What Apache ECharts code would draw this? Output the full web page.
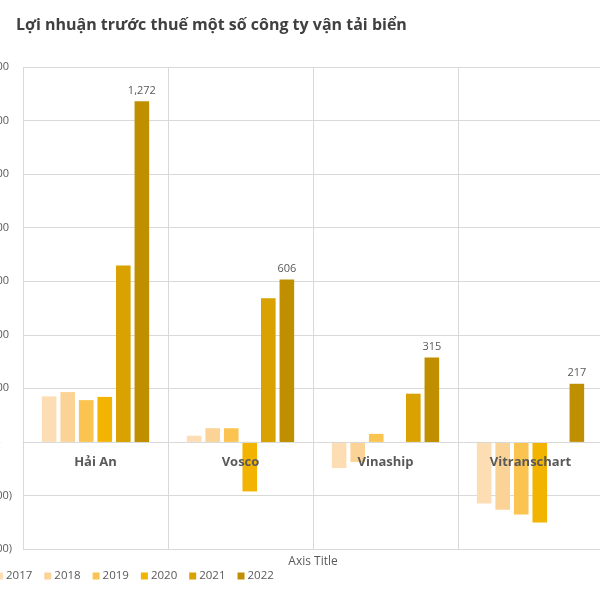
<!DOCTYPE html>
<html>
<head>
<meta charset="utf-8">
<script src="https://cdn.jsdelivr.net/npm/echarts@6/dist/echarts.min.js"></script>
<style>
html,body{margin:0;padding:0;background:#fff;}
#chart{width:600px;height:600px;}
</style>
</head>
<body>
<div id="chart"></div>
<script>
const categories = ['Hải An', 'Vosco', 'Vinaship', 'Vitranschart'];
const years = ['2017', '2018', '2019', '2020', '2021', '2022'];
const v2017 = [170, 23, -98, -230];
const v2018 = [186, 51, -75, -253];
const v2019 = [156, 51, 30, -271];
const v2020 = [168, -185, null, -301];
const v2021 = [659, 536, 180, null];
const v2022 = [1272, 606, 315, 217];
const yTicks = [-400, -200, 0, 200, 400, 600, 800, 1000, 1200, 1400];

const seriesValues = [v2017, v2018, v2019, v2020, v2021, v2022];
const colors = ['#FDDEB4', '#FCD396', '#FBC350', '#F2B400', '#D9A200', '#BF8F00'];

const gridTop = 67, gridBottom = 51, chartH = 600;
const yMin = yTicks[0], yMax = yTicks[yTicks.length - 1];
// distance (px) of the zero line above the bottom of the plot, from the axis scale
const zeroOffset = (0 - yMin) / (yMax - yMin) * (chartH - gridTop - gridBottom);

function fmt(v) {
  if (v === 0) return '-    ';
  const s = Math.abs(v).toLocaleString('en-US');
  return v < 0 ? '(' + s + ')' : s + ' ';
}

const chart = echarts.init(document.getElementById('chart'));
chart.setOption({
  animation: false,
  textStyle: { fontFamily: 'Open Sans' },
  title: {
    text: 'Lợi nhuận trước thuế một số công ty vận tải biển',
    left: 11, top: 12,
    textStyle: { fontFamily: 'Open Sans', fontSize: 16, fontWeight: 'bold', color: '#404040' }
  },
  legend: {
    data: years,
    left: -4, top: 570, padding: 0,
    itemWidth: 7, itemHeight: 7, itemGap: 12,
    icon: 'rect',
    textStyle: { fontSize: 11.5, color: '#595959', padding: [0, 0, 0, -2] }
  },
  grid: { left: 23, right: -3, top: gridTop, bottom: gridBottom, containLabel: false, outerBoundsMode: 'none' },
  xAxis: {
    type: 'category',
    data: categories,
    position: 'bottom',
    offset: -zeroOffset,
    z: 5,
    name: 'Axis Title',
    nameLocation: 'middle',
    nameGap: 114,
    nameTextStyle: { fontSize: 12, color: '#595959' },
    axisLine: { show: true, onZero: false, lineStyle: { color: '#D9D9D9', width: 1 } },
    axisTick: { show: false },
    splitLine: { show: true, interval: 0, lineStyle: { color: '#D9D9D9', width: 1 } },
    axisLabel: { fontSize: 13, fontWeight: 'bold', color: '#595959', margin: 14 }
  },
  yAxis: {
    type: 'value',
    min: yMin, max: yMax, interval: 200,
    axisLine: { show: false },
    axisTick: { show: false },
    splitLine: { lineStyle: { color: '#D9D9D9', width: 1 } },
    axisLabel: { fontSize: 11, color: '#595959', margin: 11, formatter: fmt }
  },
  series: years.map((y, i) => ({
    name: y,
    type: 'bar',
    data: seriesValues[i],
    barGap: '27%',
    barCategoryGap: '26%',
    itemStyle: { color: colors[i] },
    label: i === years.length - 1 ? {
      show: true, position: 'top', distance: 5,
      fontSize: 11, color: '#595959',
      formatter: p => p.value.toLocaleString('en-US')
    } : { show: false }
  }))
});
</script>
</body>
</html>
